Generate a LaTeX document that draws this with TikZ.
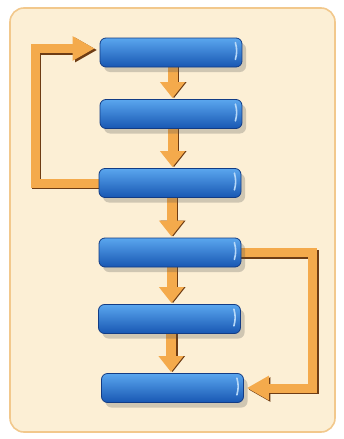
\documentclass[tikz,border=0pt]{standalone}
\usetikzlibrary{arrows.meta,shadows,calc}
\definecolor{panel}{HTML}{FCEFD5}
\definecolor{panelrim}{HTML}{F2C88C}
\definecolor{barTop}{HTML}{5AA6EE}
\definecolor{barBot}{HTML}{1857B3}
\definecolor{barRim}{HTML}{123C85}
\definecolor{flow}{HTML}{F4AA4C}
\definecolor{flowEdge}{HTML}{6E3C14}
\pgfdeclarelayer{back}
\pgfsetlayers{back,main}
\begin{document}
\begin{tikzpicture}[x=1pt,y=-1pt,
  bar/.style={rounded corners=6pt, minimum width=142pt, minimum height=29pt,
    inner sep=0pt, top color=barTop, bottom color=barBot, draw=barRim,
    line width=0.8pt,
    drop shadow={shadow xshift=4pt, shadow yshift=-5pt, opacity=0.25, fill=black!70}},
  flowline/.style={line width=10pt, draw=flow, line join=miter,
    -{Triangle[width=24pt,length=16pt]}},
  flowshade/.style={line width=10pt, draw=flowEdge, line join=miter,
    -{Triangle[width=24pt,length=16pt]}},
  loopline/.style={line width=9pt, draw=flow, line join=miter,
    -{Triangle[width=23pt,length=22pt]}},
  loopshade/.style={line width=9pt, draw=flowEdge, line join=miter,
    -{Triangle[width=23pt,length=22pt]}},
  gleam/.style={draw=white!55!barTop, line width=1.6pt, line cap=round}
]
\useasboundingbox (0,0) rectangle (343,439);

% the six process bars
\node[bar] (b1) at (171,52.5) {};
\node[bar] (b2) at (171,114) {};
\node[bar] (b3) at (170,183) {};
\node[bar] (b4) at (170,252.5) {};
\node[bar] (b5) at (169.5,319) {};
\node[bar] (b6) at (172.5,388) {};

% light rim on the right end of each bar
\foreach \b in {b1,b2,b3,b4,b5,b6}
  \draw[gleam] ([xshift=-7pt,yshift=-5pt]\b.north east) to[bend left=15]
               ([xshift=-7pt,yshift=8pt]\b.south east);

\begin{pgfonlayer}{back}
  \fill[white] (0,0) rectangle (343,439);
  % panel
  \draw[panelrim, line width=1.6pt, fill=panel, rounded corners=14pt]
    (10,8) rectangle (335,432);

  % downward arrows between consecutive bars
  \foreach \a/\c in {b1/b2,b2/b3,b3/b4,b4/b5,b5/b6} {
    \draw[flowshade, shorten >=1pt] ([xshift=3pt]\a.south) -- ([xshift=3pt]\a.south |- \c.north);
    \draw[flowline, shorten >=1pt] ([xshift=1.5pt]\a.south) -- ([xshift=1.5pt]\a.south |- \c.north);
  }

  % feedback loop on the left: third bar back to the first
  \draw[loopshade, shorten >=4pt] ([xshift=1.5pt,yshift=-1.5pt]b3.west)
    -- ([xshift=-62pt,yshift=-1.5pt]b3.west) |- ([xshift=1.5pt,yshift=2.5pt]b1.west);
  \draw[loopline, shorten >=5pt] (b3.west)
    -- ([xshift=-63.5pt]b3.west) |- ([yshift=4pt]b1.west);

  % forward jump on the right: fourth bar to the sixth
  \draw[loopshade, shorten >=3pt] ([xshift=-4pt,yshift=-1.5pt]b4.east)
    -- ([xshift=73pt,yshift=-1.5pt]b4.east) |- ([xshift=1.5pt,yshift=-1.5pt]b6.east);
  \draw[loopline, shorten >=3pt] ([xshift=-4pt]b4.east)
    -- ([xshift=71.5pt]b4.east) |- (b6.east);
\end{pgfonlayer}
\end{tikzpicture}
\end{document}
